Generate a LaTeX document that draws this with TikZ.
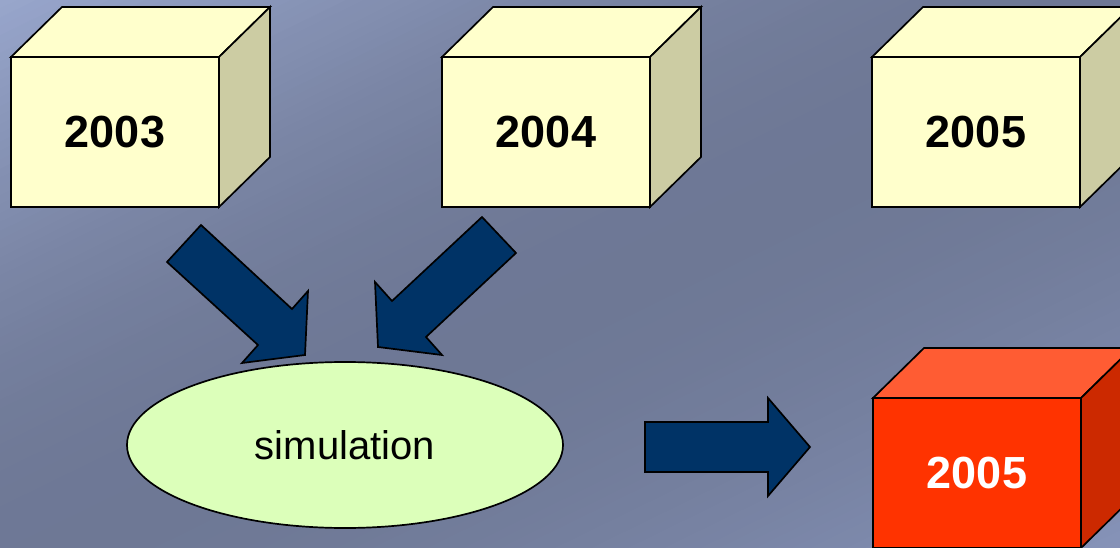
\documentclass[tikz,border=0pt]{standalone}
\usepackage{fontspec}
\setmainfont{Liberation Sans}
\usetikzlibrary{shapes.geometric,calc}
\definecolor{bgA}{RGB}{152,166,204}
\definecolor{bgB}{RGB}{110,120,149}
\definecolor{bgC}{RGB}{134,147,184}
\definecolor{yfront}{RGB}{255,255,204}
\definecolor{yside}{RGB}{204,204,163}
\definecolor{rfront}{RGB}{255,51,0}
\definecolor{rtop}{RGB}{255,92,51}
\definecolor{rside}{RGB}{204,41,0}
\definecolor{navy}{RGB}{0,51,102}
\definecolor{simgreen}{RGB}{220,255,186}
\tikzset{
  face/.style={draw=black, line width=1.7pt, line join=miter},
  frontbox/.style={face, rectangle, minimum width=208pt, minimum height=150pt, inner sep=0pt, outer sep=0pt,
    font=\fontsize{45}{54}\selectfont\bfseries},
  blockarrow/.style={draw=black, line width=1.7pt, fill=navy, line join=miter},
}
\newcommand{\cubefaces}[3]{%
  \draw[face, fill=#2] (#1.north west) -- ++(51,-50) -- ++(208,0) -- (#1.north east) -- cycle;
  \draw[face, fill=#3] (#1.north east) -- ++(51,-50) -- ++(0,150) -- (#1.south east) -- cycle;
}
\newcommand{\bgstrip}[2]{%
  \pgfmathsetmacro\ta{#1}%
  \pgfmathsetmacro\tb{#1+9}%
  \fill[fill=#2] (\ta*0.439-1170, \ta*0.898+571) -- (\ta*0.439+1170, \ta*0.898-571)
     -- (\tb*0.439+1170, \tb*0.898-571) -- (\tb*0.439-1170, \tb*0.898+571) -- cycle;
}
\begin{document}
\begin{tikzpicture}[x=1pt, y=-1pt]
\useasboundingbox (0,0) rectangle (1120,548);
\clip (0,0) rectangle (1120,548);
% background gradient (diagonal, light top-left, dark middle, lighter bottom-right)
\foreach \i in {0,...,62}{
  \pgfmathtruncatemacro\p{min(100,100*sin(90*min(1,(\i*8+4)/500)))}
  \colorlet{stripc}{bgB!\p!bgA}
  \bgstrip{\i*8}{stripc}
}
\foreach \i in {62,...,124}{
  \pgfmathtruncatemacro\p{max(0,min(100,100*(1-cos(90*max(0,min(1,(\i*8+4-500)/484))))))}
  \colorlet{stripc}{bgC!\p!bgB}
  \bgstrip{\i*8}{stripc}
}

% cubes
\node[frontbox, fill=yfront] (b2003) at (115,132) {2003};
\cubefaces{b2003}{yfront}{yside}
\node[frontbox, fill=yfront] (b2004) at (546,132) {2004};
\cubefaces{b2004}{yfront}{yside}
\node[frontbox, fill=yfront] (b2005) at (976,132) {2005};
\cubefaces{b2005}{yfront}{yside}
\node[frontbox, fill=rfront, text=white] (r2005) at (977,473) {2005};
\cubefaces{r2005}{rtop}{rside}

% simulation
\node[ellipse, draw=black, line width=1.7pt, fill=simgreen, minimum width=436pt, minimum height=166pt,
  inner sep=0pt, font=\fontsize{40}{48}\selectfont] (sim) at (345,445) {simulation};

% block arrows
\draw[blockarrow] (201,225) -- (292,309) -- (308,291) -- (305,355) -- (242,363) -- (258,345) -- (167,262) -- cycle;
\draw[blockarrow] (482,217) -- (516,253) -- (426,337) -- (442,355) -- (378,347) -- (375,282) -- (392,301) -- cycle;
\draw[blockarrow] (645,422) -- (768,422) -- (768,398) -- (810,447) -- (768,496) -- (768,472) -- (645,472) -- cycle;
\end{tikzpicture}
\end{document}
